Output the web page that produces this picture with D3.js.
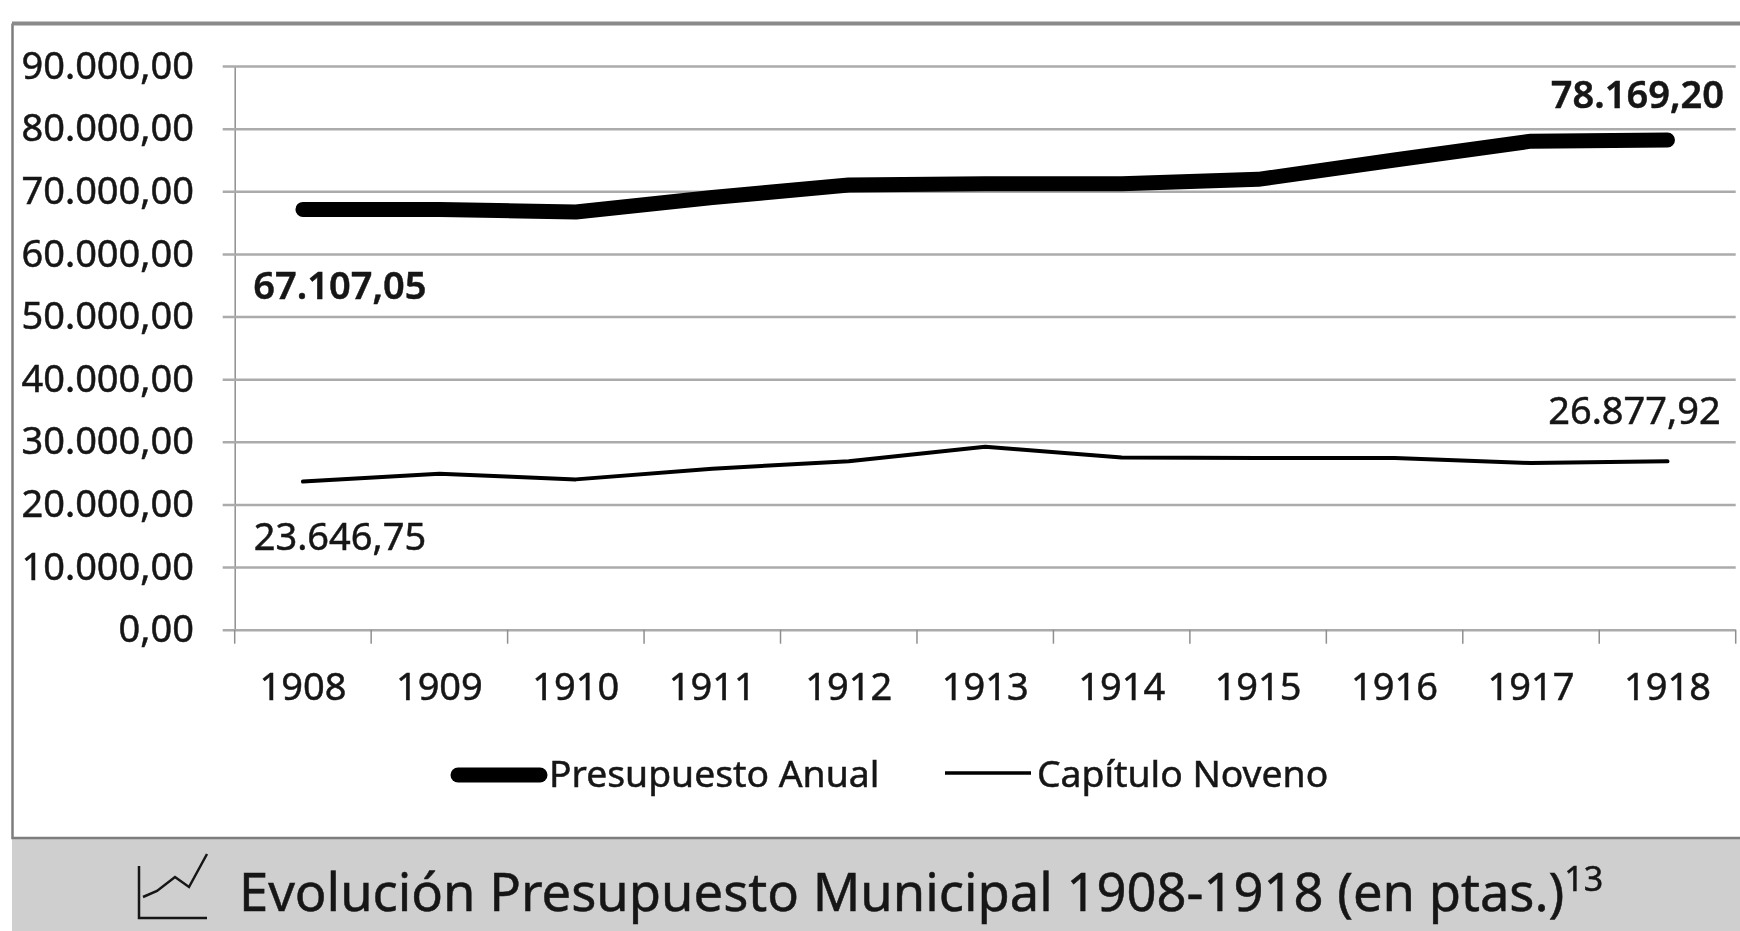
<!DOCTYPE html>
<html>
<head>
<meta charset="utf-8">
<script src="https://cdnjs.cloudflare.com/ajax/libs/d3/7.8.5/d3.min.js"></script>
<style>
    html, body { margin: 0; padding: 0; background: #fff; }
    svg { display: block; filter: blur(0.6px); }
    text { font-family: "Noto Sans", sans-serif; fill: #161616; stroke: #161616; stroke-width: 0.5; }
</style>
</head>
<body>
<svg width="1740" height="931"></svg>
<script>
var years = ["1908", "1909", "1910", "1911", "1912", "1913", "1914", "1915", "1916", "1917", "1918"];
var presupuesto = [67107.05, 67100, 66700, 69000, 71000, 71200, 71200, 71900, 75000, 78000, 78169.20];
var capitulo = [23646.75, 24900, 24000, 25700, 26900, 29200, 27500, 27400, 27400, 26600, 26877.92];
var yTicks = [0, 10000, 20000, 30000, 40000, 50000, 60000, 70000, 80000, 90000];
var seriesNames = ["Presupuesto Anual", "Capítulo Noveno"];
var titleText = "Evolución Presupuesto Municipal 1908-1918 (en ptas.)";

var svg = d3.select("svg"),
    width = +svg.attr("width"),
    height = +svg.attr("height");

var plotLeft = 234.7, plotRight = 1735.7, plotTop = 66, plotBottom = 629.7;

var x = d3.scaleBand().domain(years).range([plotLeft, plotRight]);
var y = d3.scaleLinear().domain([0, 90000]).range([plotBottom, plotTop]);

// es-ES number format: 90.000,00
var fmt = d3.formatLocale({ decimal: ",", thousands: ".", grouping: [3], currency: ["", ""] }).format(",.2f");

// title band and frame
svg.append("rect").attr("x", 12).attr("y", 838).attr("width", width - 12).attr("height", height - 838).attr("fill", "#cfcfcf");
svg.append("path")
    .attr("d", "M12.5,23.5V838H" + width)
    .attr("fill", "none").attr("stroke", "#7d7d7d").attr("stroke-width", 2.5);
svg.append("path")
    .attr("d", "M" + width + ",23.5H12")
    .attr("fill", "none").attr("stroke", "#8a8a8a").attr("stroke-width", 4);

// y axis with the grid lines as its ticks
var yAxis = svg.append("g")
    .attr("transform", "translate(" + plotLeft + ",0)")
    .call(d3.axisLeft(y).tickValues(yTicks).tickFormat(fmt).tickSizeInner(0).tickSizeOuter(0));
yAxis.select(".domain").attr("stroke", "#8f8f8f").attr("stroke-width", 1.5);
yAxis.selectAll(".tick line")
    .attr("x1", -12).attr("x2", plotRight - plotLeft)
    .attr("stroke", "#ababab").attr("stroke-width", 2.5);
yAxis.selectAll(".tick text")
    .attr("x", -40.7).attr("dy", "0.32em")
    .attr("font-family", null)
    .attr("font-size", 38).attr("text-anchor", "end");

// x axis ticks sit on the band edges, so draw them from a second scale
var edges = d3.scaleLinear().domain([0, years.length]).range([plotLeft, plotRight]);
var xAxis = svg.append("g").attr("transform", "translate(0," + plotBottom + ")");
xAxis.selectAll("line")
    .data(d3.range(years.length + 1))
    .enter().append("line")
    .attr("x1", function (d) { return edges(d); })
    .attr("x2", function (d) { return edges(d); })
    .attr("y1", 0).attr("y2", 14)
    .attr("stroke", "#8f8f8f").attr("stroke-width", 1.5);
xAxis.selectAll("text")
    .data(years)
    .enter().append("text")
    .attr("x", function (d) { return x(d) + x.bandwidth() / 2; })
    .attr("y", 70)
    .attr("font-size", 38).attr("text-anchor", "middle")
    .text(function (d) { return d; });

var line = d3.line()
    .x(function (d, i) { return x(years[i]) + x.bandwidth() / 2; })
    .y(function (d) { return y(d); });

svg.append("path").datum(presupuesto)
    .attr("d", line).attr("fill", "none").attr("stroke", "#000")
    .attr("stroke-width", 15).attr("stroke-linecap", "round").attr("stroke-linejoin", "round");
svg.append("path").datum(capitulo)
    .attr("d", line).attr("fill", "none").attr("stroke", "#000")
    .attr("stroke-width", 4).attr("stroke-linecap", "round").attr("stroke-linejoin", "round");

// end labels, placed relative to their data points
function endLabel(values, i, dx, dy, weight) {
    svg.append("text")
        .attr("x", x(years[i]) + x.bandwidth() / 2 + dx)
        .attr("y", y(values[i]) + dy)
        .attr("font-size", 38).attr("font-weight", weight).attr("text-anchor", "middle")
        .text(fmt(values[i]));
}
endLabel(presupuesto, 0, 37, 90, 600);
endLabel(presupuesto, 10, -30, -32, 600);
endLabel(capitulo, 0, 37, 68, 400);
endLabel(capitulo, 10, -33, -37, 400);

// legend
var legend = svg.append("g");
legend.append("line").attr("x1", 458).attr("x2", 540).attr("y1", 775).attr("y2", 775)
    .attr("stroke", "#000").attr("stroke-width", 15).attr("stroke-linecap", "round");
legend.append("text").attr("x", 549).attr("y", 787).attr("font-size", 37.3).text(seriesNames[0]);
legend.append("line").attr("x1", 945).attr("x2", 1031).attr("y1", 773).attr("y2", 773)
    .attr("stroke", "#000").attr("stroke-width", 3.5);
legend.append("text").attr("x", 1037).attr("y", 787).attr("font-size", 37.3).text(seriesNames[1]);

// chart icon next to the title
svg.append("path")
    .attr("d", "M139,866V918H207M143,897L157,891L175,877L189,887L207,854")
    .attr("fill", "none").attr("stroke", "#161616").attr("stroke-width", 2.5);

var title = svg.append("text").attr("x", 239).attr("y", 911).attr("font-size", 52.5);
title.append("tspan").text(titleText);
title.append("tspan").attr("font-size", 34).attr("dy", -20).text("13");
</script>
</body>
</html>
